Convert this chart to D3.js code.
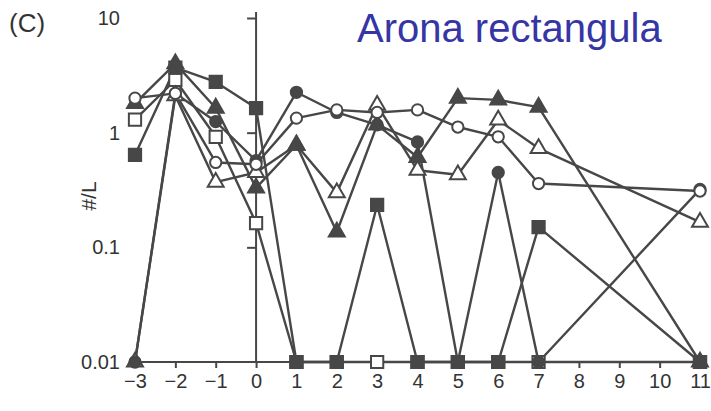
<!DOCTYPE html>
<html>
<head>
<meta charset="utf-8">
<script src="https://cdn.jsdelivr.net/npm/d3@7"></script>
<style>
  body { margin: 0; background: #fff; }
  text { font-family: "Liberation Sans", Arial, sans-serif; }
</style>
</head>
<body>
<svg width="711" height="411"></svg>
<script>
// ---- data ----
const days = [-3, -2, -1, 0, 1, 2, 3, 4, 5, 6, 7, 11];
const filledCircle   = [0.01, 2.2, 1.25, 0.57, 2.25, 1.5, 1.17, 0.83, 0.01, 0.45, 0.01, 0.32];
const openCircle     = [2.0, 2.2, 0.55, 0.53, 1.34, 1.58, 1.5, 1.58, 1.12, 0.92, 0.36, 0.31];
const filledTriangle = [1.8, 4.0, 1.64, 0.33, 0.78, 0.136, 1.17, 0.61, 2.0, 1.93, 1.67, 0.01];
const openTriangle   = [0.01, 2.1, 0.37, 0.45, 0.78, 0.30, 1.74, 0.47, 0.43, 1.29, 0.73, 0.166];
const filledSquare   = [0.64, 3.7, 2.77, 1.64, 0.01, 0.01, 0.234, 0.01, 0.01, 0.01, 0.15, 0.01];
const openSquare     = [1.3, 2.88, 0.92, 0.163, 0.01, 0.01, 0.01, 0.01, 0.01, 0.01, 0.01, 0.01];
const xTicks = d3.range(-3, 12);
const yTicks = [10, 1, 0.1, 0.01];
const yTickLabels = ["10", "1", "0.1", "0.01"];

// open ones first so the filled markers sit on top (as in the scan)
const series = [
  { name: "openSquare", values: openSquare, shape: "square", fill: false },
  { name: "openTriangle", values: openTriangle, shape: "triangle", fill: false },
  { name: "filledSquare", values: filledSquare, shape: "square", fill: true },
  { name: "filledCircle", values: filledCircle, shape: "circle", fill: true },
  { name: "filledTriangle", values: filledTriangle, shape: "triangle", fill: true },
  { name: "openCircle", values: openCircle, shape: "circle", fill: false }
];

const ink = "#474747";
const svg = d3.select("svg");

// scales
const x = d3.scaleLinear().domain([-3, 11]).range([135, 700]);
const y = d3.scaleLog().domain([0.01, 10]).range([362, 18]);

// ===== axes =====
// x axis along 0.01
const xAxis = svg.append("g").attr("transform", `translate(0,${y(0.01)})`)
  .call(d3.axisBottom(x).tickValues(xTicks).tickSize(6).tickPadding(6)
        .tickFormat(d => d < 0 ? "\u2212" + Math.abs(d) : d));
xAxis.select(".domain").attr("stroke", ink).attr("stroke-width", 2)
  .attr("d", `M${x(-3)},0H${x(11)}`);
xAxis.selectAll(".tick line").attr("stroke", ink).attr("stroke-width", 2);
xAxis.selectAll(".tick text").attr("fill", "#333").style("font-size", "20px");

// y axis drawn at day 0
const yAxis = svg.append("g").attr("transform", `translate(${x(0)},0)`)
  .call(d3.axisLeft(y).tickValues([10, 1, 0.1]).tickSize(9).tickFormat(""));
yAxis.select(".domain").attr("stroke", ink).attr("stroke-width", 2)
  .attr("d", `M0,${y(10) - 6}V${y(0.01)}`);
yAxis.selectAll(".tick line").attr("stroke", ink).attr("stroke-width", 2);

// y tick labels sit at the far left
svg.append("g").selectAll("text").data(yTicks).join("text")
  .attr("x", 120).attr("y", d => y(d)).attr("dy", "0.35em")
  .attr("text-anchor", "end").attr("fill", "#333").style("font-size", "20px")
  .text((d, i) => yTickLabels[i]);

svg.append("text").attr("transform", `translate(96,196) rotate(-90)`)
  .attr("text-anchor", "middle").attr("fill", "#333").style("font-size", "21px")
  .text("#/L");

svg.append("text").attr("x", 9).attr("y", 32).attr("fill", "#333")
  .style("font-size", "26px").text("(C)");

svg.append("text").attr("x", 357).attr("y", 42).attr("fill", "#3535a5")
  .style("font-size", "40px").text("Arona rectangula");

// ===== lines =====
const line = d3.line().x(d => x(d.day)).y(d => y(d.v));
const toPts = vals => days.map((d, i) => ({ day: d, v: vals[i] }));

svg.append("g").selectAll("path").data(series).join("path")
  .attr("d", s => line(toPts(s.values)))
  .attr("fill", "none").attr("stroke", ink).attr("stroke-width", 2.4)
  .attr("stroke-linejoin", "round");

// ===== markers =====
const symbolFor = { circle: d3.symbolCircle, square: d3.symbolSquare, triangle: d3.symbolTriangle };
const sizeFor = { circle: 100, square: 150, triangle: 110 };

series.forEach(s => {
  svg.append("g").selectAll("path").data(toPts(s.values)).join("path")
    .attr("transform", d => `translate(${x(d.day)},${y(d.v)})`)
    .attr("d", d3.symbol().type(symbolFor[s.shape]).size(sizeFor[s.shape]))
    .attr("fill", s.fill ? ink : "#fff")
    .attr("stroke", ink).attr("stroke-width", 2);
});
</script>
</body>
</html>
